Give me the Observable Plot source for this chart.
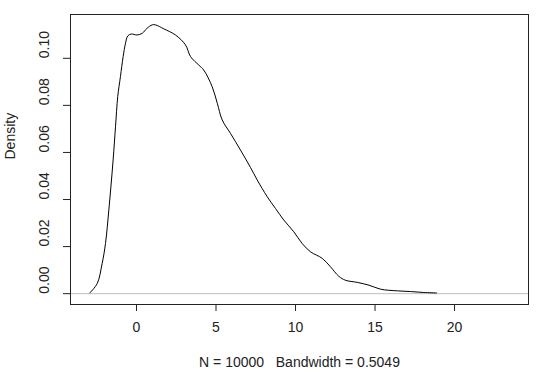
<!DOCTYPE html>
<html><head>
<meta charset="utf-8">
<script src="https://cdn.jsdelivr.net/npm/d3@7"></script>
<script src="https://cdn.jsdelivr.net/npm/@observablehq/plot@0.6"></script>
<style>body{margin:0;background:#fff;} svg{font-family: Arial, "Liberation Sans", sans-serif;}</style>
</head><body><div id="chart"></div>
<script>
const xs = [-2.94,-2.47,-2.16,-1.95,-1.74,-1.47,-1.32,-1.18,-1.01,-0.84,-0.69,-0.55,-0.33,0.04,0.36,0.67,0.99,1.19,1.72,2.45,3.08,3.40,3.92,4.23,4.76,5.08,5.39,5.91,6.54,7.17,7.59,8.22,8.74,9.26,9.89,10.42,10.94,11.68,12.20,12.72,13.14,13.88,14.62,15.35,16.40,17.23,18.07,18.87];
const ys = [0.0003,0.0043,0.0128,0.0213,0.0355,0.0568,0.0709,0.0837,0.0922,0.1007,0.1064,0.1095,0.1103,0.1099,0.1106,0.1128,0.1142,0.1142,0.1125,0.1099,0.1057,0.1007,0.0971,0.0950,0.0879,0.0809,0.0738,0.0681,0.0610,0.0536,0.0483,0.0412,0.0362,0.0313,0.0263,0.0213,0.0178,0.0150,0.0114,0.0074,0.0057,0.0048,0.0036,0.0019,0.0012,0.0009,0.0005,0.0003];
const xTicks = [0, 5, 10, 15, 20];
const yTicks = [0, 0.02, 0.04, 0.06, 0.08, 0.10];
const xLabel = "N = 10000\u00a0\u00a0\u00a0Bandwidth = 0.5049";
const yLabel = "Density";
const data = xs.map((x, i) => ({x, y: ys[i]}));
const FONT = "Arial, 'Liberation Sans', sans-serif";
const plot = Plot.plot({
  width: 540, height: 380,
  marginLeft: 70, marginRight: 12, marginTop: 14, marginBottom: 76,
  style: {fontSize: "14px", fontFamily: FONT, background: "#fff", color: "#222"},
  x: {domain: [-4.15, 24.65]},
  y: {domain: [-0.0046, 0.1186]},
  marks: [
    Plot.ruleY([0], {stroke: "#bebebe"}),
    Plot.line(data, {x: "x", y: "y", stroke: "#000", strokeWidth: 1, curve: "catmull-rom"}),
    Plot.frame({stroke: "#222"}),
    Plot.axisX({ticks: xTicks, tickSize: 7, tickFormat: () => "", label: null}),
    Plot.axisY({ticks: yTicks, tickSize: 7, tickFormat: () => "", label: null}),
    Plot.text(xTicks, {x: d => d, text: d => String(d), frameAnchor: "bottom", dy: 27, fontSize: 14, fill: "#222"}),
    Plot.text(yTicks, {y: d => d, text: d => d.toFixed(2), frameAnchor: "left", dx: -26, rotate: -90, fontSize: 14, fill: "#222"}),
    Plot.text([xLabel], {text: d => d, frameAnchor: "bottom", dy: 62, fontSize: 14, fill: "#222"}),
    Plot.text([yLabel], {text: d => d, frameAnchor: "left", dx: -60, rotate: -90, fontSize: 14, fill: "#222"})
  ]
});
document.getElementById("chart").appendChild(plot);
</script>
</body></html>
